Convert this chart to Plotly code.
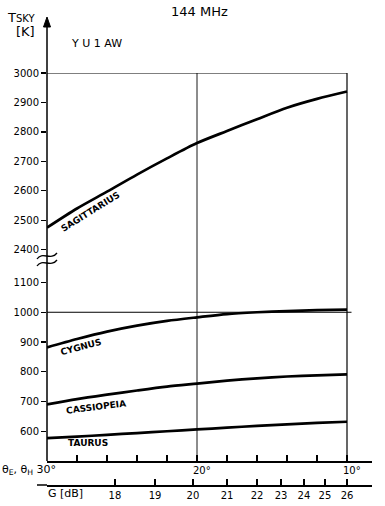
import plotly.graph_objects as go

# ---------------- data ----------------
theta = [30, 28, 26, 24, 22, 20, 18, 16, 14, 12, 10]
sagittarius = [2475, 2540, 2597, 2655, 2710, 2762, 2803, 2843, 2882, 2912, 2937]
cygnus = [882, 910, 935, 955, 971, 983, 994, 1000, 1004, 1007, 1009]
cassiopeia = [690, 708, 723, 737, 750, 760, 770, 778, 784, 788, 791]
taurus = [577, 582, 588, 594, 600, 606, 612, 618, 623, 628, 632]

theta_minor_ticks = [28, 26, 24, 22, 20, 18, 16, 14, 12, 10]
theta_labels = {30: "30°", 20: "20°", 10: "10°"}

gain_labels = ["18", "19", "20", "21", "22", "23", "24", "25", "26"]
gain_theta = [25.47, 22.8, 20.27, 18.0, 16.0, 14.4, 12.87, 11.47, 10.0]

y_ticks_low = [600, 700, 800, 900, 1000, 1100]
y_ticks_high = [2400, 2500, 2600, 2700, 2800, 2900, 3000]

# ---------------- layout helpers ----------------
W_, H_ = 385, 506
L, R, T, B = 47, 13, 73, 21
PW, PH = W_ - L - R, H_ - T - B
FONT = "DejaVu Sans"


def px(x):
    return (x - L) / PW


def py(y):
    return (H_ - B - y) / PH


low_dom = [py(461), py(262)]
high_dom = [py(262), 1.0]
low_range = [500, 500 + (461 - 262) / 0.2975]
high_range = [3000 - (262 - 73) / 0.2945, 3000]

fig = go.Figure()
line_style = dict(color="black", width=2.7, shape="spline", smoothing=0.8)
fig.add_trace(go.Scatter(x=theta, y=sagittarius, mode="lines", line=line_style,
                         xaxis="x", yaxis="y2", hoverinfo="skip"))
for vals in (cygnus, cassiopeia, taurus):
    fig.add_trace(go.Scatter(x=theta, y=vals, mode="lines", line=line_style,
                             xaxis="x", yaxis="y", hoverinfo="skip"))
# dummy trace for the gain axis
fig.add_trace(go.Scatter(x=gain_theta, y=[None] * len(gain_theta), xaxis="x2",
                         yaxis="y", mode="lines", hoverinfo="skip"))

tickfont = dict(family=FONT, size=10, color="black")
xr = [30, 30 - (372 - 47) / 15]
fig.update_layout(
    width=W_, height=H_, margin=dict(l=L, r=R, t=T, b=B, autoexpand=False),
    paper_bgcolor="white", plot_bgcolor="white", showlegend=False,
    xaxis=dict(range=xr, domain=[0, 1], anchor="y", automargin=False,
               showgrid=False, zeroline=False, showline=True, linecolor="black",
               linewidth=1.5, ticks="inside", ticklen=6, tickwidth=1.2,
               tickcolor="black", tickvals=theta_minor_ticks,
               showticklabels=False),
    xaxis2=dict(range=xr, domain=[0, 1], overlaying="x", automargin=False,
                anchor="free", position=0, side="bottom", showgrid=False,
                zeroline=False, showline=True, linecolor="black", linewidth=1.5,
                ticks="inside", ticklen=6, tickwidth=1.2, tickcolor="black",
                tickvals=gain_theta, ticktext=gain_labels, tickfont=tickfont,
                tickangle=0),
    yaxis=dict(domain=low_dom, range=low_range, anchor="x", automargin=False,
               showgrid=False, zeroline=False, showline=False, ticks="outside",
               ticklen=5, tickwidth=1.2, tickcolor="black", tickvals=y_ticks_low,
               tickfont=tickfont),
    yaxis2=dict(domain=high_dom, range=high_range, anchor="x", automargin=False,
                showgrid=False, zeroline=False, showline=False, ticks="outside",
                ticklen=5, tickwidth=1.2, tickcolor="black", tickvals=y_ticks_high,
                tickfont=tickfont),
)

shapes = []
# y axis line with arrow
shapes.append(dict(type="line", xref="paper", yref="paper", x0=0, x1=0,
                   y0=py(461), y1=py(25), line=dict(color="black", width=1.5)))
shapes.append(dict(type="path", xref="paper", yref="paper",
                   path=f"M {px(43.5)},{py(27)} L {px(47)},{py(17)} L {px(50.5)},{py(27)} Z",
                   fillcolor="black", line=dict(color="black", width=1)))
# frame lines
shapes.append(dict(type="line", xref="x", yref="y2", x0=30, x1=10, y0=3000, y1=3000,
                   line=dict(color="black", width=1.2)))
shapes.append(dict(type="line", xref="x", yref="paper", x0=10, x1=10, y0=py(461), y1=1,
                   line=dict(color="black", width=1.2)))
shapes.append(dict(type="line", xref="x", yref="paper", x0=20, x1=20, y0=py(461), y1=1,
                   line=dict(color="black", width=0.9)))
shapes.append(dict(type="line", xref="x", yref="y", x0=30, x1=9.7, y0=1000, y1=1000,
                   line=dict(color="black", width=1.0)))
# gain axis extends left
shapes.append(dict(type="line", xref="paper", yref="paper", x0=px(37), x1=0, y0=0, y1=0,
                   line=dict(color="black", width=1.5)))
# break symbol
for dy in (0, 7):
    shapes.append(dict(type="path", xref="paper", yref="paper",
                       path=(f"M {px(37)},{py(259 + dy)} C {px(42)},{py(251 + dy)} "
                             f"{px(51)},{py(261 + dy)} {px(57)},{py(253 + dy)}"),
                       line=dict(color="black", width=1.3)))
fig.update_layout(shapes=shapes)

ann = []


def text(x, y, s, size=10, anchor="center", angle=0):
    ann.append(dict(xref="paper", yref="paper", x=px(x), y=py(y), text=s,
                    showarrow=False, xanchor=anchor, yanchor="middle",
                    textangle=angle, font=dict(family=FONT, size=size, color="black")))


text(5, 17, "T<span style='font-size:10px'>SKY</span>", 13, "left")
text(14, 31, "[K]", 13, "left")
text(69, 44, "Y U 1 AW", 11, "left")
text(169, 12, "144 MHz", 13, "left")
text(0, 470, "θ<sub>E</sub>, θ<sub>H</sub> 30°", 11, "left")
text(191, 470, theta_labels[20], 10, "left")
text(341, 470, theta_labels[10], 10, "left")
text(46, 493, "G [dB]", 11, "left")
text(90, 212, "<b>SAGITTARIUS</b>", 9, "center", -32)
text(81, 347, "<b>CYGNUS</b>", 9, "center", -15)
text(96, 407, "<b>CASSIOPEIA</b>", 9, "center", -7)
text(88, 443, "<b>TAURUS</b>", 9, "center", 0)
fig.update_layout(annotations=ann)

fig.write_html("out.html",
               config={"displayModeBar": False, "staticPlot": True},
               post_script="document.body.style.margin='0px';"
                           "document.body.style.overflow='hidden';")
